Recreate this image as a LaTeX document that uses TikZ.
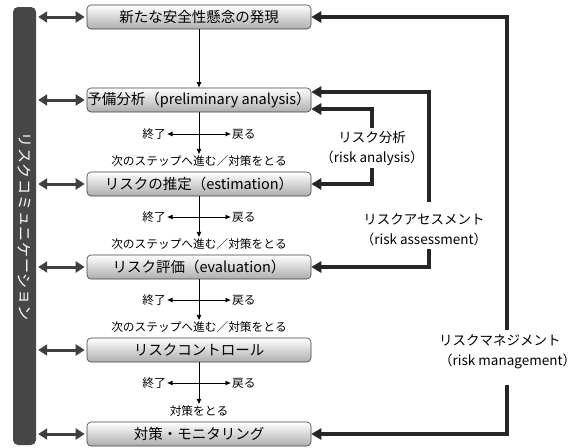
\documentclass[tikz,border=0pt]{standalone}
\usepackage{fontspec}
\setmainfont{Noto Sans CJK JP}
\usetikzlibrary{arrows.meta}
\begin{document}
\begin{tikzpicture}[x=1pt,y=-1pt,
  box/.style={draw=black!75, line width=0.6pt, rounded corners=4pt, top color=white, bottom color=black!32,
     minimum width=224pt, minimum height=24pt, inner sep=0pt, font=\fontsize{14.5}{15}\selectfont},
  bar/.style={fill=black!72, rounded corners=5pt, minimum width=23pt, minimum height=438pt, inner sep=0pt},
  bartext/.style={text=white, rotate=-90, inner sep=0pt, font=\fontsize{15}{15}\selectfont},
  dbl/.style={draw=black!75, line width=3pt, {Triangle[length=9pt,width=11pt]}-{Triangle[length=9pt,width=11pt]}},
  tarr/.style={draw=black, line width=0.8pt, -{Latex[length=5.5pt,width=5pt]}},
  small/.style={font=\fontsize{11.7}{12}\selectfont, inner sep=1pt},
  fb/.style={draw=black!85, line width=3.6pt, -{Triangle[length=10pt,width=11pt]}},
  lab/.style={font=\fontsize{13.5}{20}\selectfont, align=center, inner sep=0pt},
]
\useasboundingbox[fill=white] (0,0) rectangle (575,447);

% communication bar
\node[bar] (bar) at (24.5,226) {};
\foreach \c [count=\i] in {リ,ス,ク,コ,ミ,ュ,ニ,ケ,ー,シ,ョ,ン}{
  \node[bartext] (bc\i) at (24.5,{140+15.7*(\i-1)}) {\c};
}

% main boxes
\node[box] (b1) at (199,17) {新たな安全性懸念の発現};
\node[box] (b2) at (199,100) {予備分析（preliminary analysis）};
\node[box] (b3) at (199,184) {リスクの推定（estimation）};
\node[box] (b4) at (199,267) {リスク評価（evaluation）};
\node[box] (b5) at (199,350) {リスクコントロール};
\node[box] (b6) at (199,434) {対策・モニタリング};

% double arrows
\foreach \b in {b1,b2,b3,b4,b5,b6}{
  \draw[dbl, shorten <=2pt, shorten >=2pt] (bar.east |- \b.west) -- (\b.west);
}

% b1 -> b2
\draw[tarr] (b1.south) -- (b2.north);

% crosses
\foreach \u/\d/\cy/\ly/\t in {b2/b3/134/161/次のステップへ進む／対策をとる,
                          b3/b4/217/244/次のステップへ進む／対策をとる,
                          b4/b5/300/327/次のステップへ進む／対策をとる,
                          b5/b6/383/411/対策をとる}{
  \coordinate (c\u) at (199,\cy);
  \node[small] (n\u) at (199,\ly) {\t};
  \node[small, anchor=east] (e\u) at (167,\cy) {終了};
  \node[small, anchor=west] (r\u) at (231,\cy) {戻る};
  \draw[tarr] (\u.south) -- (n\u.north);
  \draw[tarr] (c\u) -- (e\u.east);
  \draw[tarr] (c\u) -- (r\u.west);
}

% risk analysis
\node[lab] (ra) at (372,148) {リスク分析\\（risk analysis）};
\coordinate (ratop) at (372,128);
\coordinate (rabot) at (372,168);
\draw[fb] (ratop) |- ([yshift=-9pt]b2.east);
\draw[fb] (rabot) |- (b3.east);

% risk assessment
\node[lab] (ras) at (424,230) {リスクアセスメント\\（risk assessment）};
\coordinate (astop) at (429,202);
\coordinate (asbot) at (429,249);
\draw[fb] (astop) |- ([yshift=8pt]b2.east);
\draw[fb] (asbot) |- (b4.east);

% risk management
\node[lab, align=left, anchor=west] (rm) at (439,352) {リスクマネジメント\\（risk management）};
\coordinate (mtop) at (507,330);
\coordinate (mbot) at (507,385);
\draw[fb] (mtop) |- (b1.east);
\draw[fb] (mbot) |- (b6.east);
\end{tikzpicture}
\end{document}
